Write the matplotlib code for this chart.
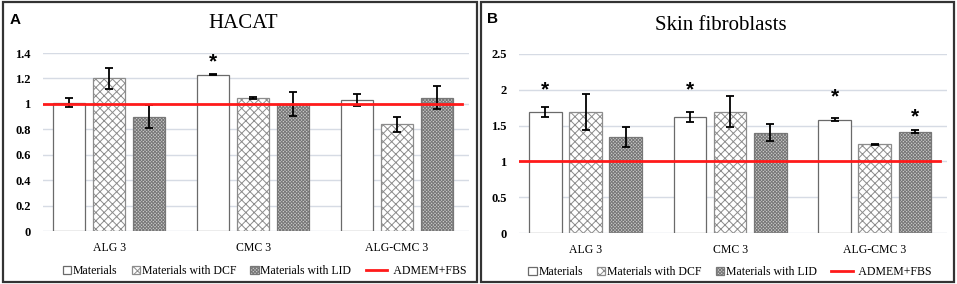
import matplotlib
matplotlib.use("Agg")
import matplotlib.pyplot as plt
from matplotlib.patches import Rectangle
from matplotlib.lines import Line2D
from matplotlib.legend_handler import HandlerLine2D
import numpy as np

plt.rcParams['font.family'] = ['Liberation Serif', 'DejaVu Serif']
plt.rcParams['hatch.linewidth'] = 0.7

categories = ["ALG 3", "CMC 3", "ALG-CMC 3"]
series = ["Materials", "Materials with DCF", "Materials with LID"]
control_label = "ADMEM+FBS"

# panel A - HACAT
hacat_vals = [[1.01, 1.23, 1.03],
              [1.20, 1.047, 0.84],
              [0.90, 1.00, 1.05]]
hacat_err = [[0.035, 0.005, 0.05],
             [0.085, 0.01, 0.058],
             [0.09, 0.095, 0.088]]
hacat_star = [[False, True, False],
              [False, False, False],
              [False, False, False]]
hacat_star_y = [[0, 1.33, 0], [0, 0, 0], [0, 0, 0]]
hacat_ctrl = 1.0

# panel B - skin fibroblasts
fib_vals = [[1.685, 1.62, 1.583],
            [1.695, 1.695, 1.238],
            [1.336, 1.40, 1.415]]
fib_err = [[0.07, 0.07, 0.02],
           [0.25, 0.22, 0.005],
           [0.14, 0.12, 0.02]]
fib_star = [[True, True, True],
            [False, False, False],
            [False, False, True]]
fib_star_y = [[2.0, 2.0, 1.9], [0, 0, 0], [0, 0, 1.62]]
fib_ctrl = 1.01

styles = [dict(facecolor='white', edgecolor='#6a6a6a', hatch=None),
          dict(facecolor='white', edgecolor='#8c8c8c', hatch='xxxx'),
          dict(facecolor='#cccccc', edgecolor='#777777', hatch='x' * 10)]


class LongLine(HandlerLine2D):
    # red legend line drawn longer than the square patches
    def create_artists(self, legend, orig, xdescent, ydescent, width, height,
                       fontsize, trans):
        y = height / 2 - ydescent
        ln = Line2D([0, width * 2.6], [y, y], color='#ff1a1a', lw=2.0)
        ln.set_transform(trans)
        return [ln]


fig = plt.figure(figsize=(9.57, 2.84), dpi=100)
W, H = 957, 284


def px_axes(l, t, r, b):
    return fig.add_axes([l / W, 1 - b / H, (r - l) / W, (b - t) / H])


def panel(ax, title, letter, vals, errs, stars, star_y, ctrl, ymax, ystep,
          leg_x, leg_y, title_xy, letter_xy):
    x = np.arange(len(categories))
    width = 0.225
    step = 0.278
    handles = []
    for i in range(len(series)):
        st = styles[i]
        b = ax.bar(x + (i - 1) * step, vals[i], width, yerr=errs[i],
                   facecolor=st['facecolor'], edgecolor=st['edgecolor'],
                   hatch=st['hatch'], linewidth=0.9,
                   error_kw=dict(ecolor='black', elinewidth=1.3, capsize=3,
                                 capthick=1.3), zorder=2)
        handles.append(b.patches[0])
        for j in range(len(categories)):
            if stars[i][j]:
                ax.text(x[j] + (i - 1) * step, star_y[i][j], '*',
                        ha='center', va='center', fontsize=15,
                        fontweight='bold', family='Liberation Sans', zorder=5)
    line, = ax.plot([-0.46, 2.45], [ctrl, ctrl], color='#ff1a1a', lw=2.0,
                    zorder=4)
    handles.append(line)
    ax.set_xlim(-0.46, 2.5)
    ax.set_ylim(0, ymax)
    ticks = np.arange(0, ymax + 1e-9, ystep)
    ax.set_yticks(ticks)
    ax.set_yticklabels(['%g' % round(t, 1) for t in ticks], fontweight='bold',
                       fontsize=9)
    ax.set_xticks(x)
    ax.set_xticklabels(categories, fontsize=8.5)
    ax.tick_params(length=0, axis='both')
    ax.tick_params(axis='y', pad=9)
    ax.tick_params(axis='x', pad=8)
    ax.grid(axis='y', color='#d6dbe4', lw=1.0, zorder=0)
    ax.set_axisbelow(True)
    for s in ax.spines.values():
        s.set_visible(False)
    labels = series + ['      ' + control_label]
    ax.legend(handles, labels, loc='center', bbox_to_anchor=(leg_x, leg_y),
              ncol=4, frameon=False, fontsize=8.5, handlelength=0.7,
              handleheight=0.7, handletextpad=0.15, columnspacing=1.2,
              handler_map={line: LongLine()})
    fig.text(title_xy[0] / W, 1 - title_xy[1] / H, title, ha='center',
             va='center', fontsize=15)
    fig.text(letter_xy[0] / W, 1 - letter_xy[1] / H, letter, ha='center',
             va='center', fontsize=11, fontweight='bold',
             family='Liberation Sans')


axA = px_axes(43, 53, 469, 231)
panel(axA, "HACAT", "A", hacat_vals, hacat_err, hacat_star, hacat_star_y,
      hacat_ctrl, 1.4, 0.2, 0.52, -0.225, (243, 24), (15, 20))

axB = px_axes(519, 54, 947, 233)
panel(axB, "Skin fibroblasts", "B", fib_vals, fib_err, fib_star, fib_star_y,
      fib_ctrl, 2.5, 0.5, 0.493, -0.218, (721, 25), (492, 19))

# panel frames
for l, r in [(3, 477), (481, 954)]:
    fig.add_artist(Rectangle((l / W, 1 - 282 / H), (r - l) / W, 280 / H,
                             transform=fig.transFigure, fill=False,
                             edgecolor='#333333', lw=1.6))

fig.savefig('out.png', dpi=100)
